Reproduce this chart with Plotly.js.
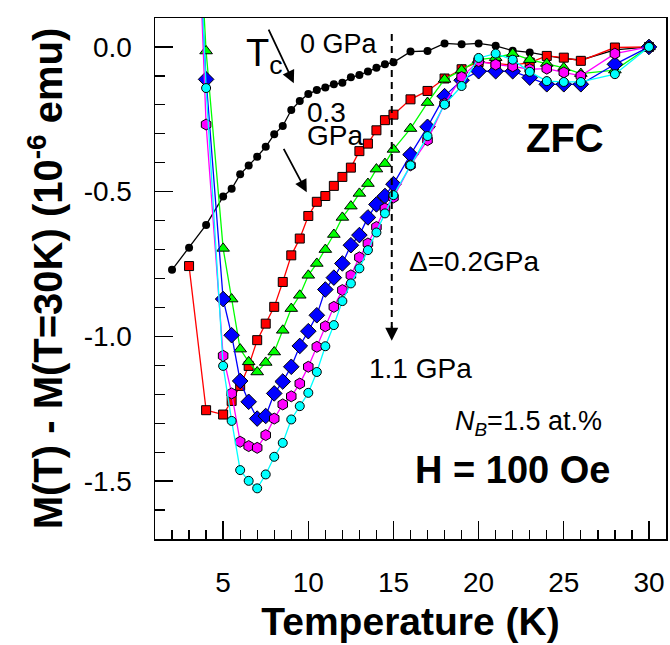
<!DOCTYPE html>
<html>
<head>
<meta charset="utf-8">
<script src="https://cdn.plot.ly/plotly-3.0.1.min.js"></script>
<style>html,body{margin:0;padding:0;background:#fff;}#chart{width:670px;height:645px;}</style>
</head>
<body>
<div id="chart"></div>
<script>
// Temperature grids (K)
const T_0GPa = [2,3,4,5,5.5,6,6.5,7,7.5,8,8.5,9,9.5,10,10.5,11,11.5,12,12.5,13,13.5,14,14.5,15,16,17,18,19,20,21,22,23,24,25,26,28,30];
const T_grid = [3,4,5,5.5,6,6.5,7,7.5,8,8.5,9,9.5,10,10.5,11,11.5,12,12.5,13,13.5,14,14.5,15,16,17,18,19,20,21,22,23,24,25,26,28,30];

// M(T) - M(30K), 10^-6 emu
const M_0GPa = [-0.77,-0.694,-0.615,-0.517,-0.49,-0.44,-0.41,-0.379,-0.345,-0.302,-0.273,-0.218,-0.187,-0.163,-0.149,-0.14,-0.129,-0.124,-0.105,-0.097,-0.085,-0.072,-0.06,-0.053,-0.016,-0.014,0.012,0.009,0.012,0.004,-0.013,-0.019,-0.03,-0.04,-0.045,-0.01,0];
const M_03GPa = [-0.757,-1.255,-1.27,-1.223,-1.171,-1.102,-1.013,-0.956,-0.898,-0.812,-0.72,-0.662,-0.584,-0.535,-0.515,-0.48,-0.449,-0.417,-0.36,-0.334,-0.288,-0.253,-0.234,-0.181,-0.152,-0.109,-0.077,-0.052,-0.057,-0.063,-0.054,-0.031,-0.037,-0.048,-0.002,0];
const M_05GPa = [1.05,-0.014,-0.696,-0.871,-1.044,-1.088,-1.123,-1.09,-1.054,-0.979,-0.904,-0.858,-0.789,-0.748,-0.7,-0.648,-0.589,-0.55,-0.506,-0.472,-0.422,-0.403,-0.354,-0.282,-0.192,-0.112,-0.08,-0.044,-0.037,-0.023,-0.044,-0.057,-0.072,-0.092,-0.08,0];
const M_07GPa = [0.94,-0.112,-0.871,-0.996,-1.154,-1.226,-1.284,-1.275,-1.197,-1.156,-1.105,-1.033,-0.982,-0.927,-0.838,-0.797,-0.748,-0.685,-0.65,-0.589,-0.544,-0.515,-0.474,-0.372,-0.276,-0.17,-0.115,-0.084,-0.084,-0.084,-0.106,-0.129,-0.129,-0.129,-0.06,0];
const M_09GPa = [1.26,-0.268,-1.067,-1.197,-1.364,-1.379,-1.385,-1.341,-1.284,-1.235,-1.207,-1.163,-1.105,-1.036,-0.965,-0.898,-0.84,-0.789,-0.727,-0.679,-0.622,-0.558,-0.52,-0.409,-0.322,-0.196,-0.104,-0.049,-0.061,-0.067,-0.077,-0.075,-0.088,-0.1,-0.023,0];
const M_11GPa = [1.18,-0.142,-1.102,-1.292,-1.462,-1.499,-1.525,-1.477,-1.416,-1.368,-1.287,-1.241,-1.195,-1.123,-1.034,-0.961,-0.878,-0.817,-0.765,-0.702,-0.641,-0.575,-0.512,-0.409,-0.308,-0.199,-0.135,-0.038,-0.023,-0.044,-0.086,-0.118,-0.121,-0.121,-0.094,0];

const seriesNames = ['0 GPa','0.3 GPa','0.5 GPa','0.7 GPa','0.9 GPa','1.1 GPa'];

const FONT = 'Liberation Sans, Arial, sans-serif';

function tr(name, x, y, color, symbol, size, outline) {
  return {
    type: 'scatter', mode: 'lines+markers', name: name, x: x, y: y,
    line: {color: color, width: 1.3},
    marker: {symbol: symbol, size: size, color: color,
             line: {color: outline ? '#000' : color, width: outline ? 1 : 0}},
    showlegend: false
  };
}

const data = [
  tr(seriesNames[0], T_0GPa, M_0GPa, '#000000', 'circle', 8, false),
  tr(seriesNames[1], T_grid, M_03GPa, '#ff0000', 'square', 9, true),
  tr(seriesNames[2], T_grid, M_05GPa, '#00ff00', 'triangle-up', 11, true),
  tr(seriesNames[3], T_grid, M_07GPa, '#0000ff', 'diamond', 12, true),
  tr(seriesNames[4], T_grid, M_09GPa, '#ff00ff', 'hexagon', 11, true),
  tr(seriesNames[5], T_grid, M_11GPa, '#00ffff', 'circle', 9, true)
];

const layout = {
  width: 670, height: 645,
  margin: {l: 155, r: 4, t: 18, b: 106},
  paper_bgcolor: '#fff', plot_bgcolor: '#fff',
  font: {family: FONT, color: '#000'},
  xaxis: {
    range: [1, 31], tickmode: 'array', tickvals: [5,10,15,20,25,30],
    ticks: 'inside', ticklen: 18, tickwidth: 1.3, tickcolor: '#000',
    minor: {dtick: 1, tick0: 0, ticks: 'inside', ticklen: 9, tickwidth: 1.3, tickcolor: '#000'},
    showline: true, linecolor: '#000', linewidth: 1.5, mirror: true,
    showgrid: false, zeroline: false,
    tickfont: {size: 28, family: FONT}, ticklabelstandoff: 18,
    title: {text: '<b>Temperature (K)</b>', font: {size: 39, family: FONT}, standoff: 10}
  },
  yaxis: {
    range: [-1.7, 0.1], tickmode: 'array', tickvals: [-1.5,-1.0,-0.5,0.0], ticktext: ['-1.5','-1.0','-0.5','0.0'],
    ticks: 'inside', ticklen: 18, tickwidth: 1.3, tickcolor: '#000',
    minor: {dtick: 0.1, tick0: 0, ticks: 'inside', ticklen: 10, tickwidth: 1.3, tickcolor: '#000'},
    showline: true, linecolor: '#000', linewidth: 1.5, mirror: true,
    showgrid: false, zeroline: false,
    tickfont: {size: 28, family: FONT}, ticklabelstandoff: 16,
    title: {text: '<b>M(T) - M(T=30K) (10<sup>-6</sup> emu)</b>', font: {size: 40, family: FONT}, standoff: 8}
  },
  shapes: [
    {type: 'line', xref: 'x', yref: 'y', x0: 14.9, x1: 14.9, y0: 0.045, y1: -0.97,
     line: {color: '#000', width: 2, dash: '7px,5px'}}
  ],
  annotations: [
    {x: 7.4, y: -0.03, xref: 'x', yref: 'y', text: 'T<sub>c</sub>', showarrow: false, font: {size: 38, family: FONT}},
    {x: 9.15, y: -0.125, ax: 7.63, ay: 0.065, axref: 'x', ayref: 'y', xref: 'x', yref: 'y', text: '',
     showarrow: true, arrowhead: 2, arrowsize: 1.4, arrowwidth: 1.8, arrowcolor: '#000'},
    {x: 9.91, y: -0.502, ax: 8.51, ay: -0.347, axref: 'x', ayref: 'y', xref: 'x', yref: 'y', text: '',
     showarrow: true, arrowhead: 2, arrowsize: 1.4, arrowwidth: 1.8, arrowcolor: '#000'},
    {x: 14.9, y: -1.015, ax: 14.9, ay: -0.96, axref: 'x', ayref: 'y', xref: 'x', yref: 'y', text: '',
     showarrow: true, arrowhead: 2, arrowsize: 1.3, arrowwidth: 2, arrowcolor: '#000'},
    {x: 11.82, y: 0.009, xref: 'x', yref: 'y', text: '0 GPa', showarrow: false, font: {size: 27, family: FONT}},
    {x: 9.8, y: -0.226, xref: 'x', yref: 'y', xanchor: 'left', text: '0.3', showarrow: false, font: {size: 28, family: FONT}},
    {x: 9.8, y: -0.305, xref: 'x', yref: 'y', xanchor: 'left', text: 'GPa', showarrow: false, font: {size: 28, family: FONT}},
    {x: 15.78, y: -0.74, xref: 'x', yref: 'y', xanchor: 'left', text: 'Δ=0.2GPa', showarrow: false, font: {size: 28, family: FONT}},
    {x: 13.43, y: -1.11, xref: 'x', yref: 'y', xanchor: 'left', text: '1.1 GPa', showarrow: false, font: {size: 28, family: FONT}},
    {x: 25.05, y: -0.315, xref: 'x', yref: 'y', text: '<b>ZFC</b>', showarrow: false, font: {size: 40, family: FONT}},
    {x: 18.48, y: -1.3, xref: 'x', yref: 'y', xanchor: 'left', text: '<i>N<sub>B</sub></i>=1.5 at.%', showarrow: false, font: {size: 27, family: FONT}},
    {x: 16.13, y: -1.462, xref: 'x', yref: 'y', xanchor: 'left', text: '<b>H = 100 Oe</b>', showarrow: false, font: {size: 38, family: FONT}}
  ]
};

Plotly.newPlot('chart', data, layout, {displayModeBar: false, staticPlot: true});
</script>
</body>
</html>
